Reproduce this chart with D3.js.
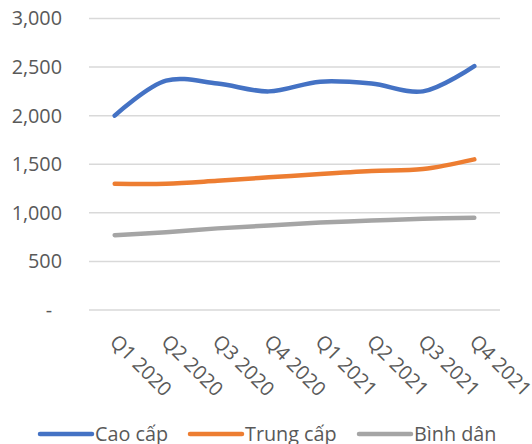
<!DOCTYPE html>
<html>
<head>
<meta charset="utf-8">
<script src="https://cdn.jsdelivr.net/npm/d3@7"></script>
<style>
  html, body { margin: 0; padding: 0; background: #fff; }
  svg text { font-family: "Open Sans", "Noto Sans", sans-serif; fill: #595959; }
</style>
</head>
<body>
<svg id="chart" width="532" height="444"></svg>
<script>
// Quarterly figures by segment
const quarters = ["Q1 2020", "Q2 2020", "Q3 2020", "Q4 2020", "Q1 2021", "Q2 2021", "Q3 2021", "Q4 2021"];
const caoCap   = [2000, 2360, 2330, 2250, 2350, 2330, 2250, 2510];
const trungCap = [1300, 1300, 1330, 1365, 1400, 1430, 1450, 1550];
const binhDan  = [770, 800, 840, 870, 900, 920, 940, 950];
const yTicks   = [0, 500, 1000, 1500, 2000, 2500, 3000];
const seriesNames  = ["Cao cấp", "Trung cấp", "Bình dân"];
const seriesColors = ["#4472C4", "#ED7D31", "#A5A5A5"];

const series = [caoCap, trungCap, binhDan].map((values, i) => ({
  name: seriesNames[i], color: seriesColors[i], values
}));

const svg = d3.select("#chart");
const margin = { left: 89, right: 32, top: 18.5, bottom: 134 };
const W = 532, H = 444;
const fontSize = 19.8;

const x = d3.scaleBand().domain(quarters).range([margin.left, W - margin.right]);
const y = d3.scaleLinear().domain([0, 3000]).range([H - margin.bottom, margin.top]);

// Horizontal gridlines
svg.append("g")
  .selectAll("line")
  .data(yTicks)
  .join("line")
  .attr("x1", margin.left).attr("x2", W - margin.right)
  .attr("y1", d => y(d)).attr("y2", d => y(d))
  .attr("stroke", "#D9D9D9").attr("stroke-width", 1.5);

// Y axis labels
const fmt = d3.format(",");
const yAxis = svg.append("g")
  .attr("transform", `translate(${margin.left - 27},0)`)
  .call(d3.axisLeft(y).tickValues(yTicks).tickSize(0).tickPadding(0)
    .tickFormat(d => d === 0 ? "-" : fmt(d)));
yAxis.select(".domain").remove();
yAxis.selectAll("text")
  .attr("font-size", fontSize)
  .attr("fill", "#595959")
  .attr("dx", d => d === 0 ? -10 : 0)
  .style("font-family", "'Open Sans', sans-serif");

// X axis labels, rotated
const xAxis = svg.append("g")
  .attr("transform", `translate(0,${y(0)})`)
  .call(d3.axisBottom(x).tickSize(0).tickPadding(0));
xAxis.select(".domain").remove();
xAxis.selectAll(".tick text")
  .attr("font-size", fontSize)
  .attr("fill", "#595959")
  .attr("text-anchor", "start")
  .attr("x", 0).attr("y", 0).attr("dy", "0.35em")
  .attr("transform", "translate(-1,28) rotate(45)")
  .style("font-family", "'Open Sans', sans-serif");

// Smoothed series lines
const line = d3.line()
  .x((d, i) => x(quarters[i]) + x.bandwidth() / 2)
  .y(d => y(d))
  .curve(d3.curveCatmullRom.alpha(0.5));

svg.append("g")
  .selectAll("path")
  .data(series)
  .join("path")
  .attr("d", d => line(d.values))
  .attr("fill", "none")
  .attr("stroke", d => d.color)
  .attr("stroke-width", 4.5)
  .attr("stroke-linecap", "round")
  .attr("stroke-linejoin", "round");

// Legend
const legendX = [40, 190, 359];
const legend = svg.append("g")
  .selectAll("g")
  .data(series)
  .join("g")
  .attr("transform", (d, i) => `translate(${legendX[i]},434)`);
legend.append("line")
  .attr("x1", 0).attr("x2", 52).attr("y1", 0).attr("y2", 0)
  .attr("stroke", d => d.color).attr("stroke-width", 4.5)
  .attr("stroke-linecap", "round");
legend.append("text")
  .attr("x", 55).attr("y", 0).attr("dy", "0.35em")
  .attr("font-size", fontSize)
  .text(d => d.name);
</script>
</body>
</html>
